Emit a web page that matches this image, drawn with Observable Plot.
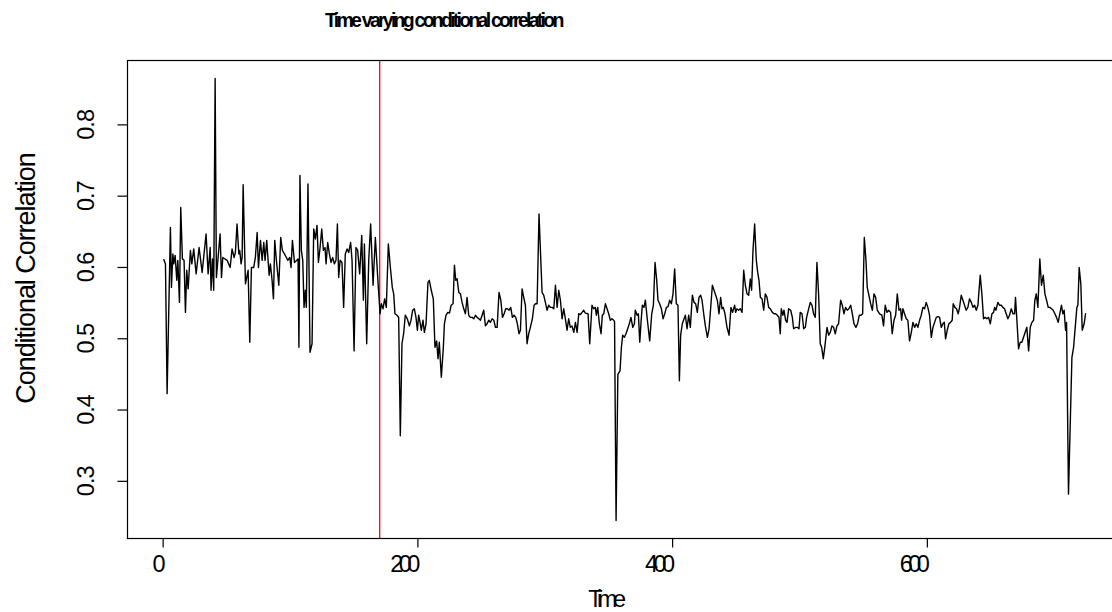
<!DOCTYPE html>
<html><head><meta charset="utf-8">
<script src="https://cdn.jsdelivr.net/npm/d3@7"></script>
<script src="https://cdn.jsdelivr.net/npm/@observablehq/plot@0.6"></script>
<style>
html,body{margin:0;padding:0;background:#fff;overflow:hidden;width:1112px;height:612px;}
#title{position:relative;height:40px;}
#title span{position:absolute;left:325px;top:10.8px;font:bold 19.5px "Liberation Sans",Arial,sans-serif;letter-spacing:-2.75px;line-height:1;white-space:nowrap;color:#000;}
#chart svg{display:block;overflow:visible;max-width:none !important;}
</style></head><body>
<div id="title"><span id="ttl"></span></div>
<div id="chart"></div>
<script>
const titleText = "Time varying conditional correlation";
const xLabel = "Time";
const yLabel = "Conditional Correlation";
const xTicks = [0, 200, 400, 600];
const yTicks = [0.3, 0.4, 0.5, 0.6, 0.7, 0.8];
const breakTime = [170];

// [time, conditional correlation], by stretch
const corrA = [[0.5,0.611],[1.8,0.605],[3.1,0.423],[5.7,0.656],[6.5,0.572],[7.6,0.619],[8.3,0.605],[9.4,0.617],[10.7,0.582],[11.5,0.610],[12.8,0.551],[13.8,0.684],[15.1,0.612],[16.4,0.610],[17.5,0.537],[18.5,0.596],[19.6,0.570],[21.4,0.624],[22.5,0.605],[24.0,0.626],[25.9,0.591],[28.2,0.628],[30.6,0.593],[33.7,0.647],[35.3,0.591],[36.9,0.628],[37.6,0.568],[38.7,0.612],[39.7,0.568],[40.8,0.865],[41.8,0.586],[44.7,0.647],[45.8,0.586],[46.8,0.614],[50.2,0.610],[52.6,0.600],[54.1,0.626],[55.7,0.614],[56.7,0.621],[58.0,0.661],[59.4,0.619],[60.1,0.624],[61.2,0.605],[62.0,0.614],[62.8,0.716],[64.6,0.577],[66.7,0.596],[68.0,0.495],[69.3,0.600],[71.1,0.600],[72.4,0.614],[73.8,0.649],[74.8,0.600],[76.4,0.638],[77.7,0.610],[79.0,0.635],[80.0,0.610],[81.3,0.638],[83.2,0.589],[84.2,0.605],[85.5,0.582],[86.6,0.556],[87.6,0.638],[88.9,0.610],[90.8,0.575],[92.3,0.642],[93.6,0.624],[95.2,0.619],[96.8,0.614],[97.8,0.610],[99.4,0.614],[100.4,0.600],[101.5,0.638],[103.1,0.607],[104.9,0.610]];
const corrB = [[105.9,0.612],[106.6,0.488],[107.4,0.729],[108.5,0.624],[109.6,0.610],[110.6,0.544],[111.6,0.568],[112.4,0.544],[113.7,0.717],[115.3,0.481],[116.9,0.493],[118.2,0.654],[119.5,0.640],[120.8,0.659],[121.9,0.607],[123.2,0.628],[124.5,0.654],[125.8,0.624],[127.1,0.628],[127.9,0.605],[129.2,0.635],[130.5,0.619],[131.8,0.607],[133.1,0.614],[134.4,0.605],[135.7,0.610],[136.8,0.661],[137.8,0.586],[138.9,0.610],[140.4,0.607],[141.7,0.544],[143.0,0.619],[144.4,0.626],[145.7,0.621],[147.2,0.635],[148.3,0.610],[149.9,0.483],[151.4,0.628],[152.7,0.624],[154.3,0.591],[155.9,0.645],[157.2,0.554],[158.0,0.633],[159.8,0.493],[161.4,0.610],[162.9,0.661],[164.8,0.575],[166.6,0.642],[168.7,0.579],[170.3,0.535],[171.3,0.549],[172.6,0.542],[173.9,0.556],[175.2,0.544],[176.8,0.633],[178.4,0.600],[179.9,0.572],[181.0,0.563],[182.0,0.535],[183.6,0.533],[184.9,0.530],[186.2,0.364],[187.5,0.493],[188.8,0.507],[190.1,0.533],[191.7,0.528],[193.3,0.518],[194.6,0.526],[195.9,0.540],[197.2,0.542],[198.5,0.530],[199.6,0.512],[200.6,0.533],[201.7,0.523],[202.7,0.512],[204.0,0.526],[205.1,0.509],[206.4,0.521],[207.9,0.579],[209.0,0.582],[210.5,0.568],[212.1,0.556],[213.4,0.488],[214.7,0.497],[215.8,0.472],[216.8,0.495],[218.4,0.446],[220.0,0.488]];
const corrC = [[220.8,0.521],[222.1,0.533],[223.5,0.537],[224.8,0.536],[226.1,0.547],[227.6,0.549],[228.7,0.603],[229.7,0.582],[230.8,0.584],[232.1,0.565],[233.4,0.563],[234.7,0.551],[236.0,0.542],[237.3,0.535],[238.6,0.558],[239.9,0.533],[241.2,0.530],[242.6,0.530],[243.9,0.528],[245.2,0.533],[246.5,0.530],[247.8,0.528],[249.1,0.526],[250.4,0.533],[251.7,0.540],[253.0,0.518],[254.3,0.521],[255.6,0.526],[256.9,0.523],[258.3,0.528],[259.6,0.526],[260.9,0.516],[262.2,0.516],[263.7,0.565],[265.1,0.554],[266.4,0.530],[267.7,0.535],[269.0,0.542],[270.3,0.542],[271.6,0.540],[272.9,0.544],[274.2,0.530],[275.5,0.533],[276.8,0.530],[278.1,0.521],[279.4,0.507],[280.5,0.512],[281.8,0.570],[283.1,0.558],[284.4,0.547],[285.7,0.493],[287.0,0.507],[288.3,0.516],[289.9,0.528],[291.2,0.547],[292.3,0.549],[293.6,0.549],[295.1,0.675],[296.2,0.624],[297.5,0.565],[298.8,0.561],[300.1,0.551],[301.4,0.540],[302.7,0.547],[304.0,0.544],[305.4,0.544],[306.7,0.542],[308.0,0.575],[309.3,0.544],[310.6,0.568],[311.9,0.554],[313.2,0.528],[314.5,0.542],[315.8,0.528],[317.1,0.512],[318.4,0.528],[319.7,0.516],[321.0,0.518],[322.4,0.509],[323.7,0.523],[325.0,0.509],[326.3,0.535],[327.6,0.534],[328.9,0.537],[330.2,0.540],[331.5,0.536]];
const corrD = [[333.6,0.535],[334.9,0.493],[336.7,0.547],[338.0,0.542],[339.3,0.544],[340.1,0.533],[341.2,0.544],[342.5,0.521],[343.8,0.507],[344.8,0.533],[345.9,0.535],[347.2,0.549],[348.5,0.542],[349.8,0.535],[351.1,0.526],[352.4,0.528],[353.7,0.526],[354.4,0.524],[355.6,0.245],[357.0,0.450],[358.7,0.455],[359.8,0.488],[360.8,0.505],[362.1,0.502],[363.4,0.507],[364.7,0.514],[366.0,0.521],[367.3,0.530],[368.7,0.516],[370.0,0.521],[370.7,0.540],[372.1,0.533],[373.1,0.535],[374.2,0.495],[375.2,0.523],[376.2,0.547],[377.5,0.544],[378.6,0.554],[380.2,0.526],[382.0,0.497],[383.6,0.535],[384.9,0.547],[386.2,0.607],[387.5,0.582],[388.5,0.554],[389.8,0.549],[391.2,0.542],[392.5,0.528],[393.8,0.535],[395.1,0.544],[396.4,0.545],[397.7,0.554],[399.0,0.549],[400.3,0.563],[401.6,0.598],[402.9,0.549],[404.2,0.547],[405.3,0.441],[406.3,0.505],[407.6,0.521],[409.0,0.528],[410.0,0.533],[411.3,0.514],[412.6,0.533],[413.9,0.516],[415.5,0.561],[416.8,0.551],[418.1,0.549],[419.4,0.537],[420.7,0.558],[422.0,0.561],[423.1,0.554],[424.4,0.535],[425.7,0.518],[427.3,0.502],[428.6,0.514],[429.9,0.544],[431.2,0.575],[432.5,0.568],[433.8,0.561],[435.1,0.554],[436.4,0.535],[437.7,0.558],[438.8,0.542],[439.8,0.544],[441.1,0.535],[442.7,0.516],[444.3,0.505],[445.8,0.544],[447.1,0.537],[448.7,0.547]];
const corrE = [[449.5,0.537],[450.5,0.542],[451.8,0.540],[453.1,0.542],[454.5,0.537],[455.8,0.596],[457.1,0.575],[458.4,0.563],[459.7,0.561],[461.0,0.584],[462.0,0.568],[463.1,0.624],[464.4,0.661],[465.7,0.610],[466.8,0.593],[467.8,0.582],[468.9,0.558],[470.2,0.556],[471.5,0.540],[472.8,0.563],[474.1,0.558],[475.4,0.544],[476.7,0.542],[478.3,0.537],[479.6,0.535],[480.9,0.535],[482.2,0.533],[483.5,0.530],[484.5,0.507],[485.3,0.542],[486.6,0.533],[487.4,0.540],[488.7,0.526],[489.8,0.523],[491.1,0.542],[492.7,0.540],[494.0,0.530],[495.0,0.514],[496.6,0.516],[497.9,0.516],[499.2,0.514],[500.2,0.537],[501.6,0.535],[502.9,0.514],[504.2,0.516],[505.2,0.530],[506.8,0.542],[508.1,0.551],[509.4,0.547],[510.7,0.535],[512.0,0.530],[513.3,0.607],[514.6,0.563],[515.9,0.493],[517.0,0.488],[518.3,0.472],[519.6,0.490],[521.2,0.516],[522.5,0.505],[523.8,0.509],[525.1,0.518],[526.4,0.516],[527.7,0.507],[529.0,0.518],[530.3,0.521],[531.9,0.554],[533.2,0.547],[534.5,0.535],[535.8,0.544],[537.1,0.540],[538.4,0.542],[539.8,0.547],[541.1,0.535],[542.4,0.521],[543.9,0.516],[545.2,0.521],[546.6,0.533],[547.9,0.533],[549.2,0.535],[550.5,0.642],[551.8,0.610],[552.8,0.572],[554.1,0.561],[555.5,0.549],[556.8,0.540],[558.1,0.563],[559.4,0.558],[560.7,0.540],[562.5,0.535]];
const corrF = [[564.3,0.533],[565.6,0.518],[566.9,0.547],[568.3,0.537],[569.6,0.540],[571.1,0.537],[572.4,0.507],[573.8,0.526],[575.1,0.533],[576.4,0.563],[577.7,0.540],[579.0,0.542],[579.8,0.526],[580.8,0.542],[582.1,0.535],[583.4,0.528],[584.7,0.526],[586.0,0.497],[587.4,0.509],[588.7,0.523],[590.0,0.516],[591.3,0.521],[592.6,0.516],[593.9,0.526],[595.2,0.533],[596.5,0.544],[597.8,0.542],[599.1,0.551],[600.4,0.544],[601.7,0.533],[603.1,0.502],[604.4,0.516],[605.7,0.523],[607.0,0.530],[608.3,0.531],[609.6,0.530],[610.9,0.516],[612.2,0.521],[613.3,0.523],[614.3,0.500],[615.6,0.512],[616.9,0.521],[618.2,0.523],[619.5,0.526],[620.3,0.549],[621.6,0.544],[622.9,0.542],[624.2,0.535],[625.3,0.544],[626.6,0.561],[627.9,0.554],[629.2,0.547],[630.5,0.540],[631.8,0.544],[633.1,0.556],[634.5,0.551],[635.8,0.544],[637.1,0.547],[638.4,0.540],[639.7,0.547],[641.5,0.589],[642.8,0.563],[644.1,0.528],[645.4,0.530],[646.7,0.528],[648.1,0.530],[649.4,0.521],[650.7,0.535],[652.0,0.537],[652.8,0.544],[653.8,0.540],[655.4,0.551],[656.7,0.547],[658.0,0.547],[659.3,0.544],[660.6,0.542],[661.9,0.535],[663.2,0.528],[664.5,0.533],[665.9,0.542],[667.2,0.535],[668.5,0.535],[669.2,0.558],[670.3,0.526],[671.6,0.486],[672.9,0.495],[674.2,0.495],[675.5,0.502],[676.8,0.509],[678.1,0.516],[679.5,0.483],[680.8,0.516],[682.1,0.523],[683.4,0.526],[684.4,0.554]];
const corrG = [[685.5,0.563],[686.8,0.544],[688.3,0.612],[689.6,0.575],[691.0,0.589],[692.3,0.563],[693.6,0.554],[694.9,0.544],[696.2,0.544],[697.5,0.542],[698.8,0.540],[700.1,0.535],[701.4,0.530],[702.7,0.523],[704.0,0.535],[705.3,0.547],[706.4,0.535],[707.4,0.540],[708.5,0.512],[709.3,0.523],[710.8,0.282],[713.5,0.474],[714.8,0.488],[716.1,0.516],[717.4,0.544],[718.2,0.547],[719.2,0.600],[720.5,0.577],[721.6,0.512],[723.1,0.521],[724.2,0.535]];

const series = [...corrA, ...corrB, ...corrC, ...corrD, ...corrE, ...corrF, ...corrG].map(([t, v]) => ({t, v}));

document.getElementById("ttl").textContent = titleText;

const font = '"Liberation Sans", Arial, Helvetica, sans-serif';
const chart = Plot.plot({
  width: 1124, height: 572,
  marginLeft: 127, marginRight: 1, marginTop: 20, marginBottom: 74,
  x: {domain: [-28, 754], axis: null},
  y: {domain: [0.2198, 0.8903], axis: null},
  style: {fontFamily: font, background: "white", color: "black", overflow: "visible", maxWidth: "none"},
  marks: [
    Plot.ruleX(breakTime, {stroke: "#ff0000", strokeWidth: 1.3}),
    Plot.lineY(series, {x: "t", y: "v", stroke: "black", strokeWidth: 1.4}),
    Plot.frame({stroke: "black", strokeWidth: 1.2}),
    Plot.axisX(xTicks, {tickSize: 9.5, fill: "none", stroke: "black", strokeWidth: 1.2}),
    Plot.axisY(yTicks, {tickSize: 9.5, fill: "none", stroke: "black", strokeWidth: 1.2}),
    Plot.text(xTicks, {x: d => d, text: d => String(d), frameAnchor: "bottom", lineAnchor: "bottom", textAnchor: "end", dy: 33.7, dx: -2, fontSize: 23.5, fill: "black", ariaDescription: "xticklab"}),
    Plot.text(yTicks, {y: d => d, text: d => d.toFixed(1), frameAnchor: "left", rotate: -90, lineAnchor: "bottom", textAnchor: "middle", dx: -34, fontSize: 23.5, fill: "black", ariaDescription: "yticklab"}),
    Plot.text([yLabel], {text: d => d, frameAnchor: "left", rotate: -90, lineAnchor: "bottom", textAnchor: "middle", dx: -93, dy: -21, fontSize: 27, fill: "black", ariaDescription: "ylab"}),
    Plot.text([xLabel], {text: d => d, frameAnchor: "bottom", lineAnchor: "bottom", textAnchor: "end", dx: -4, dy: 68.7, fontSize: 23.5, fill: "black", ariaDescription: "xlab"})
  ]
});
chart.style.maxWidth = "none";
document.getElementById("chart").appendChild(chart);
const s = d3.select(chart);
const spacing = {xticklab: "-4.5px", xlab: "-4.5px", yticklab: "-1px", ylab: "-1.05px"};
s.selectAll("g[aria-description]").each(function () {
  const k = this.getAttribute("aria-description");
  if (spacing[k]) d3.select(this).selectAll("text").style("letter-spacing", spacing[k]);
});
</script>
</body></html>
